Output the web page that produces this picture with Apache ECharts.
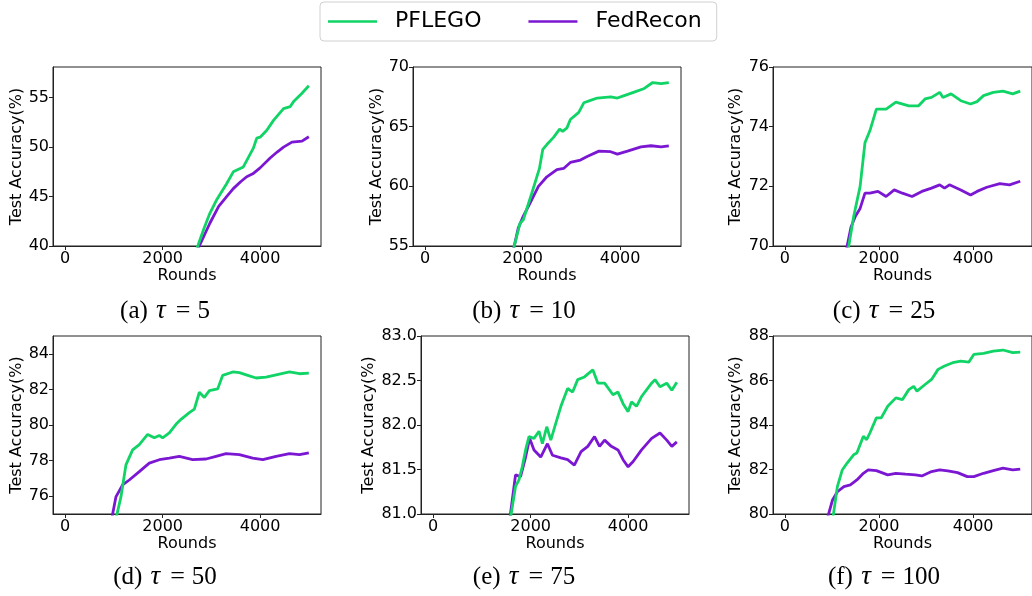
<!DOCTYPE html>
<html><head><meta charset="utf-8">
<script src="https://cdn.jsdelivr.net/npm/echarts@6/dist/echarts.min.js"></script>
<style>html,body{margin:0;padding:0;background:#fff}#c{width:1032px;height:596px}</style>
</head><body><div id="c"></div>
<script>
const methods = ['PFLEGO', 'FedRecon'];
const xTicks = [0, 2000, 4000];
const panelLetters = ['(a)', '(b)', '(c)', '(d)', '(e)', '(f)'];
const taus = [5, 10, 25, 50, 75, 100];
const yTicksA = [40, 45, 50, 55];
const yTicksB = [55, 60, 65, 70];
const yTicksC = [70, 72, 74, 76];
const yTicksD = [76, 78, 80, 82, 84];
const yTicksE = [81.0, 81.5, 82.0, 82.5, 83.0];
const yTicksF = [80, 82, 84, 86, 88];
const yRangeA = [40, 58.1];
const yRangeB = [55, 70];
const yRangeC = [70, 76];
const yRangeD = [75, 85];
const yRangeE = [81, 83];
const yRangeF = [80, 88];

const pflegoA = [[2500,37.0],[2728,40.1],[2850,41.8],[2969,43.3],[3100,44.6],[3313,46.3],[3450,47.5],[3656,48.0],[3862,49.9],[3931,50.9],[4000,51.0],[4138,51.7],[4275,52.7],[4481,53.9],[4619,54.1],[4687,54.6],[4850,55.4],[5000,56.2]];
const fedreconA = [[2500,37.3],[2763,40.1],[2969,42.3],[3150,44.0],[3313,45.0],[3450,45.8],[3600,46.5],[3725,47.0],[3850,47.3],[4000,47.9],[4206,48.9],[4350,49.5],[4481,50.0],[4653,50.5],[4860,50.6],[5000,51.05]];
const pflegoB = [[1700,52.9],[1828,55.0],[1945,56.9],[2014,57.2],[2186,59.4],[2345,61.5],[2414,63.1],[2497,63.5],[2634,64.1],[2759,64.8],[2821,64.6],[2910,64.9],[2979,65.6],[3152,66.2],[3255,67.0],[3393,67.2],[3531,67.4],[3807,67.5],[3945,67.4],[4083,67.6],[4290,67.9],[4497,68.2],[4669,68.7],[4841,68.6],[5000,68.7]];
const fedreconB = [[1700,52.7],[1828,55.0],[1910,56.5],[2014,57.5],[2152,58.6],[2324,60.0],[2497,60.8],[2703,61.4],[2841,61.5],[2979,62.0],[3186,62.2],[3324,62.5],[3566,62.95],[3807,62.9],[3945,62.7],[4152,62.95],[4428,63.3],[4634,63.4],[4841,63.3],[5000,63.4]];
const pflegoC = [[1250,68.96],[1359,70.0],[1462,70.98],[1600,72.0],[1703,73.46],[1807,73.86],[1945,74.59],[2152,74.59],[2359,74.82],[2634,74.7],[2841,74.7],[2979,74.93],[3117,74.98],[3290,75.15],[3359,74.98],[3531,75.1],[3738,74.87],[3945,74.76],[4083,74.84],[4221,75.04],[4428,75.15],[4634,75.19],[4841,75.1],[5000,75.19]];
const fedreconC = [[1250,69.4],[1324,70.0],[1407,70.64],[1500,71.0],[1600,71.26],[1703,71.77],[1807,71.77],[1979,71.83],[2152,71.66],[2324,71.88],[2497,71.77],[2703,71.66],[2910,71.83],[3117,71.94],[3290,72.05],[3393,71.94],[3497,72.05],[3738,71.88],[3945,71.71],[4083,71.83],[4290,71.97],[4566,72.09],[4772,72.05],[5000,72.17]];
const pflegoD = [[950,73.6],[1062,74.98],[1144,75.96],[1247,77.76],[1384,78.6],[1521,78.9],[1692,79.47],[1829,79.28],[1932,79.41],[2000,79.28],[2137,79.56],[2274,80.04],[2377,80.32],[2548,80.7],[2651,80.89],[2753,81.84],[2856,81.55],[2959,81.93],[3130,82.03],[3233,82.79],[3438,82.98],[3575,82.94],[3747,82.79],[3918,82.64],[4123,82.69],[4329,82.82],[4603,82.98],[4808,82.88],[5000,82.92]];
const fedreconD = [[900,73.9],[973,74.98],[1041,75.96],[1178,76.63],[1315,76.91],[1521,77.38],[1726,77.86],[1932,78.05],[2137,78.14],[2342,78.24],[2616,78.05],[2890,78.09],[3096,78.24],[3301,78.39],[3575,78.33],[3849,78.14],[4055,78.05],[4329,78.24],[4603,78.39],[4808,78.33],[5000,78.43]];
const pflegoE = [[1500,80.66],[1600,81.0],[1690,81.31],[1759,81.38],[1828,81.53],[1897,81.72],[1966,81.87],[2069,81.85],[2172,81.93],[2241,81.79],[2331,81.98],[2414,81.83],[2517,82.02],[2621,82.21],[2759,82.41],[2862,82.37],[2966,82.51],[3104,82.54],[3276,82.62],[3380,82.47],[3518,82.47],[3690,82.34],[3793,82.37],[3897,82.24],[4000,82.15],[4069,82.26],[4173,82.21],[4276,82.32],[4483,82.47],[4552,82.51],[4655,82.43],[4793,82.47],[4897,82.39],[5000,82.48]];
const fedreconE = [[1500,80.64],[1586,81.0],[1690,81.44],[1793,81.42],[1897,81.64],[1979,81.85],[2069,81.72],[2207,81.64],[2345,81.79],[2448,81.66],[2621,81.63],[2759,81.61],[2897,81.55],[3035,81.70],[3173,81.76],[3311,81.87],[3414,81.76],[3518,81.83],[3655,81.76],[3793,81.72],[3897,81.61],[4000,81.53],[4104,81.59],[4276,81.72],[4483,81.85],[4655,81.91],[4793,81.83],[4897,81.76],[5000,81.81]];
const pflegoF = [[950,78.76],[1034,80.0],[1117,81.23],[1221,81.98],[1324,82.29],[1462,82.66],[1531,82.74],[1669,83.49],[1738,83.34],[1807,83.64],[1945,84.32],[2048,84.32],[2186,84.84],[2359,85.22],[2497,85.14],[2634,85.59],[2738,85.74],[2807,85.52],[2979,85.82],[3117,86.05],[3255,86.5],[3393,86.65],[3566,86.8],[3738,86.87],[3910,86.83],[4014,87.17],[4221,87.22],[4428,87.32],[4634,87.37],[4841,87.25],[5000,87.28]];
const fedreconF = [[850,79.4],[931,80.0],[1014,80.63],[1117,81.0],[1255,81.23],[1393,81.31],[1531,81.53],[1669,81.83],[1772,81.98],[1945,81.95],[2186,81.76],[2359,81.83],[2566,81.79],[2772,81.76],[2910,81.71],[3117,81.91],[3290,81.98],[3462,81.94],[3669,81.86],[3876,81.68],[4014,81.68],[4221,81.83],[4428,81.95],[4634,82.06],[4841,81.98],[5000,82.02]];

const GREEN = '#10d465';
const PURPLE = '#7b17d2';
const SANS = 'DejaVu Sans';
const SERIF = 'Liberation Serif';

const panels = [
  {grid:{left:53, top:67, width:268, height:179}, yr:yRangeA, yt:yTicksA, p:pflegoA, f:fedreconA, gap:26, cap:[165,311]},
  {grid:{left:413, top:67, width:268, height:179}, yr:yRangeB, yt:yTicksB, p:pflegoB, f:fedreconB, gap:26, cap:[524,311]},
  {grid:{left:773, top:67, width:268, height:179}, yr:yRangeC, yt:yTicksC, p:pflegoC, f:fedreconC, gap:29, cap:[884,311]},
  {grid:{left:53, top:336, width:268, height:178}, yr:yRangeD, yt:yTicksD, p:pflegoD, f:fedreconD, gap:26, cap:[165,577]},
  {grid:{left:421, top:336, width:268, height:178}, yr:yRangeE, yt:yTicksE, p:pflegoE, f:fedreconE, gap:44, cap:[524,577], dec:1},
  {grid:{left:773, top:336, width:268, height:178}, yr:yRangeF, yt:yTicksF, p:pflegoF, f:fedreconF, gap:29, cap:[884,577]}
];

const grids = [], xAxes = [], yAxes = [], series = [], graphics = [];
panels.forEach((pn, i) => {
  grids.push(Object.assign({show:true, borderColor:'#222', borderWidth:1, backgroundColor:'transparent', containLabel:false}, pn.grid));
  xAxes.push({
    type:'value', gridIndex:i, min:-250, max:5250,
    name:'Rounds', nameLocation:'middle', nameGap:21,
    nameTextStyle:{fontFamily:SANS, fontSize:16, color:'#000'},
    axisLine:{show:true, onZero:false, lineStyle:{color:'#222', width:1}},
    axisTick:{show:true, length:4, lineStyle:{color:'#222'}, customValues:xTicks},
    axisLabel:{show:true, margin:5, fontFamily:SANS, fontSize:16, color:'#000', customValues:xTicks,
      formatter: v => String(v)},
    splitLine:{show:false}
  });
  yAxes.push({
    type:'value', gridIndex:i, min:pn.yr[0], max:pn.yr[1],
    name:'Test Accuracy(%)', nameLocation:'middle', nameGap:pn.gap, nameRotate:90,
    nameTextStyle:{fontFamily:SANS, fontSize:16, color:'#000'},
    axisLine:{show:true, onZero:false, lineStyle:{color:'#222', width:1}},
    axisTick:{show:true, length:4, lineStyle:{color:'#222'}, customValues:pn.yt},
    axisLabel:{show:true, margin:4, fontFamily:SANS, fontSize:16, color:'#000', customValues:pn.yt,
      formatter: v => pn.dec ? Number(v).toFixed(pn.dec) : String(v)},
    splitLine:{show:false}
  });
  series.push({name:methods[0], type:'line', xAxisIndex:i, yAxisIndex:i, data:pn.p, symbol:'none', showSymbol:false, clip:true,
    lineStyle:{color:GREEN, width:2.8}, itemStyle:{color:GREEN}, z:3});
  series.push({name:methods[1], type:'line', xAxisIndex:i, yAxisIndex:i, data:pn.f, symbol:'none', showSymbol:false, clip:true,
    lineStyle:{color:PURPLE, width:2.8}, itemStyle:{color:PURPLE}, z:2});
  graphics.push({
    type:'text', x:pn.cap[0], y:pn.cap[1],
    style:{
      text:'{p|' + panelLetters[i] + '} {t|τ}{e|=}{p|' + taus[i] + '}',
      align:'center', verticalAlign:'middle', fill:'#000',
      fontFamily:SERIF, fontSize:25,
      rich:{
        p:{fontFamily:SERIF, fontSize:25, fill:'#000'},
        t:{fontFamily:SERIF, fontSize:27, fontStyle:'italic', fill:'#000', padding:[0,6,0,2]},
        e:{fontFamily:SERIF, fontSize:26, fill:'#000', padding:[0,7,0,4]}
      }
    }
  });
});

const chart = echarts.init(document.getElementById('c'), null, {renderer:'canvas'});
chart.setOption({
  animation:false,
  backgroundColor:'#fff',
  legend:{
    data:methods, left:320, top:2,
    orient:'horizontal',
    icon:'rect',
    itemWidth:49, itemHeight:2.6, itemGap:47,
    padding:[7,15,7,8],
    borderColor:'#d0d0d0', borderWidth:1, borderRadius:4,
    textStyle:{fontFamily:SANS, fontSize:22, color:'#000', padding:[0,0,0,13], lineHeight:25}
  },
  grid:grids, xAxis:xAxes, yAxis:yAxes, series:series, graphic:graphics
});
</script></body></html>
